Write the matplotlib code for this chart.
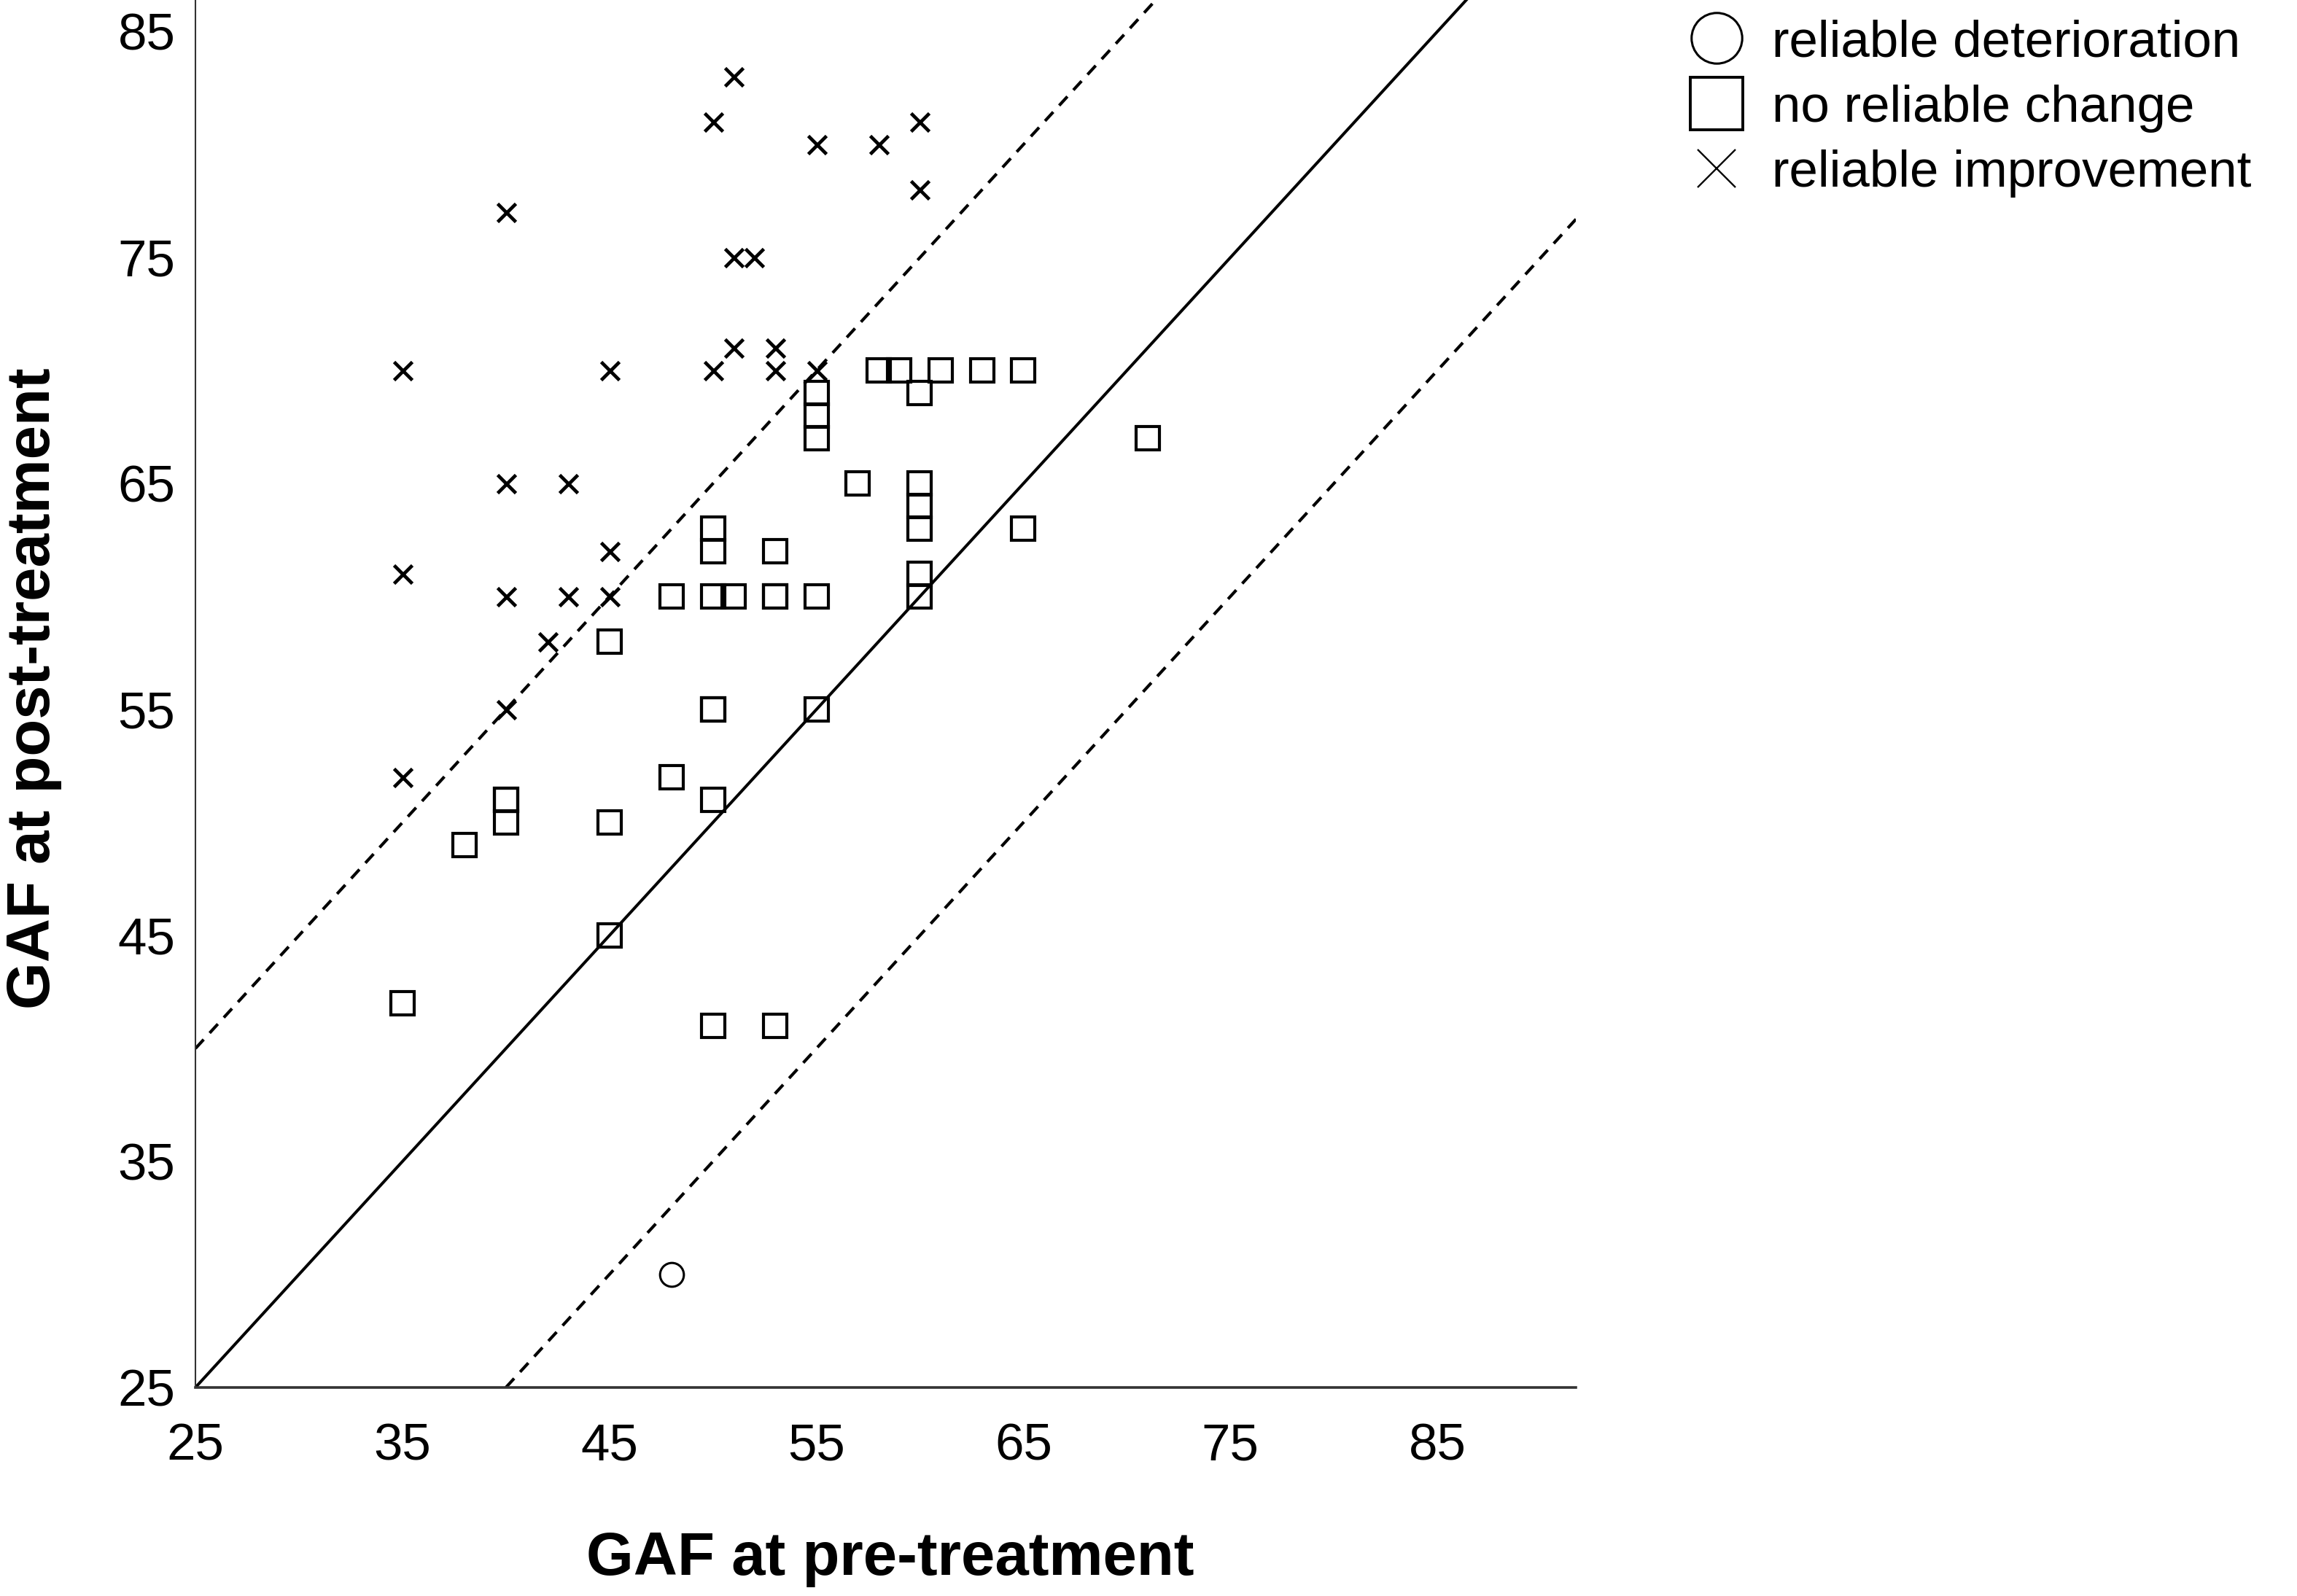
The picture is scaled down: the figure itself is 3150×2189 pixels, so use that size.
import matplotlib
matplotlib.use("Agg")
import matplotlib.pyplot as plt
from matplotlib.lines import Line2D

plt.rcParams['font.family'] = ['Liberation Sans', 'DejaVu Sans']

# ---- data ----
improve_pre = [51, 50, 60, 55, 58, 60, 40, 51, 52, 51, 53, 35, 45, 50, 53, 55,
               40, 43, 45, 35, 40, 43, 45, 42, 40, 35]
improve_post = [83, 81, 81, 80, 80, 78, 77, 75, 75, 71, 71, 70, 70, 70, 70, 70,
                65, 65, 62, 61, 60, 60, 60, 58, 55, 52]

nochange_pre = [58, 59, 61, 63, 65, 60, 55, 55, 55, 71, 57, 60, 60, 60, 65,
                50, 50, 53, 60, 48, 50, 51, 53, 53, 55, 60, 45, 50, 50, 55,
                48, 40, 40, 40, 50, 45, 38, 45, 35, 50, 53]
nochange_post = [70, 70, 70, 70, 70, 69, 69, 68, 67, 67, 65, 65, 64, 63, 63,
                 63, 62, 62, 61, 60, 60, 60, 60, 60, 60, 60, 58, 55, 55, 55,
                 52, 51, 51, 50, 51, 50, 49, 45, 42, 41, 41]

deter_pre = [48]
deter_post = [30]

rci = 15
xticks = [25, 35, 45, 55, 65, 75, 85]
yticks = [25, 35, 45, 55, 65, 75, 85]
labels = ["reliable deterioration", "no reliable change", "reliable improvement"]

# ---- figure ----
fig = plt.figure(figsize=(31.5, 21.89), dpi=100)
ax = fig.add_axes([0.0851, 0.1307, 0.6010, 0.8693])
ax.set_xlim(25, 91.7)
ax.set_ylim(25, 86.4)

ax.axline((25, 25), slope=1, color='black', lw=2.9, zorder=1)
ax.axline((25, 25 + rci), slope=1, color='black', lw=3.0,
          ls=(0, (4.0, 2.9)), zorder=1)
ax.axline((25 + rci, 25), slope=1, color='black', lw=3.0,
          ls=(0, (4.0, 2.9)), zorder=1)

ax.plot(nochange_pre, nochange_post, ls='none', marker='s', ms=22.5,
        mfc='none', mec='black', mew=3.0, zorder=3, clip_on=False)
ax.plot(improve_pre, improve_post, ls='none', marker='x', ms=18,
        mec='black', mew=3.4, zorder=3, clip_on=False)
ax.plot(deter_pre, deter_post, ls='none', marker='o', ms=23.5,
        mfc='none', mec='black', mew=2.2, zorder=3, clip_on=False)

ax.set_xticks(xticks)
ax.set_yticks(yticks)
ax.tick_params(axis='both', length=0, labelsize=51)
ax.tick_params(axis='x', pad=35)
ax.tick_params(axis='y', pad=20)

for s in ['top', 'right']:
    ax.spines[s].set_visible(False)
ax.spines['left'].set_linewidth(1.5)
ax.spines['left'].set_color('#333333')
ax.spines['bottom'].set_linewidth(2.6)
ax.spines['bottom'].set_color('#333333')

fig.text(0.3876, 0.0134, "GAF at pre-treatment", ha='center', va='baseline',
         fontsize=60, fontweight='bold')
fig.text(0.0216, 0.5688, "GAF at post-treatment", ha='center', va='baseline',
         rotation=90, rotation_mode='anchor', fontsize=60, fontweight='bold')

handles = [
    Line2D([], [], ls='none', marker='o', ms=50, mfc='none', mec='black', mew=2.2),
    Line2D([], [], ls='none', marker='s', ms=52, mfc='none', mec='black', mew=2.8),
    Line2D([], [], ls='none', marker='x', ms=37, mec='black', mew=1.7),
]
fig.legend(handles, labels, loc='upper left', bbox_to_anchor=(0.7362, 0.988),
           bbox_transform=fig.transFigure, frameon=False, fontsize=51,
           handlelength=1.0, handletextpad=0.57, labelspacing=0.33,
           borderpad=0, borderaxespad=0)

fig.savefig("out.png", dpi=100)
